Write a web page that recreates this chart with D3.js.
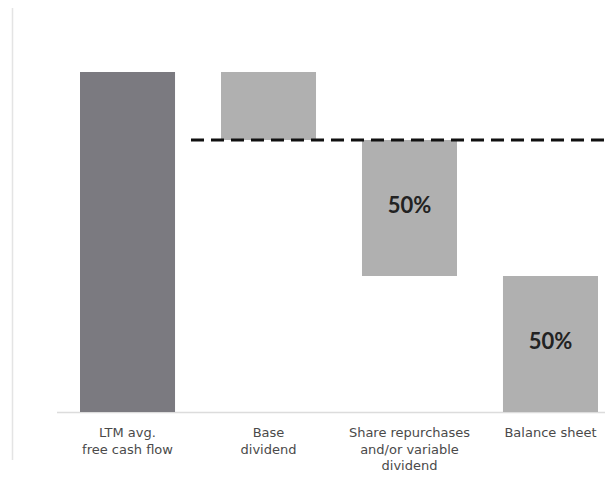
<!DOCTYPE html>
<html>
<head>
<meta charset="utf-8">
<script src="https://cdn.jsdelivr.net/npm/d3@7"></script>
<style>
  body { margin: 0; background: #fff; }
  svg { display: block; }
</style>
</head>
<body>
<div id="chart"></div>
<script>
// waterfall data
const categories = ["LTM avg.|free cash flow", "Base|dividend", "Share repurchases|and/or variable|dividend", "Balance sheet"];
const values = [100, -20, -40, -40];
const shareLabels = ["", "", "50%", "50%"];
const barColors = ["#7b7a80", "#b0b0b0", "#b0b0b0", "#b0b0b0"];

const width = 605, height = 477;

const svg = d3.select("#chart")
  .append("svg")
  .attr("width", width)
  .attr("height", height);

// build start/end for each step (first bar is the total, the rest step down)
let running = 0;
const bars = categories.map(function (c, i) {
  const start = running;
  const end = i === 0 ? values[i] : running + values[i];
  running = end;
  return { cat: c, lo: Math.min(start, end), hi: Math.max(start, end), label: shareLabels[i], color: barColors[i] };
});

const x = d3.scaleBand()
  .domain(categories)
  .range([80, 598])
  .paddingInner(0.326)
  .paddingOuter(0);

const y = d3.scaleLinear()
  .domain([0, 100])
  .range([412, 72]);

// left frame line
svg.append("line")
  .attr("x1", 12.5).attr("x2", 12.5)
  .attr("y1", 8).attr("y2", 460)
  .attr("stroke", "#e4e4e4").attr("stroke-width", 1.5);

// baseline
svg.append("line")
  .attr("x1", 57).attr("x2", width)
  .attr("y1", y(0) + 0.5).attr("y2", y(0) + 0.5)
  .attr("stroke", "#dcdcdc").attr("stroke-width", 1.5);

svg.selectAll("rect.bar")
  .data(bars)
  .enter()
  .append("rect")
  .attr("class", "bar")
  .attr("x", d => x(d.cat))
  .attr("width", x.bandwidth())
  .attr("y", d => y(d.hi))
  .attr("height", d => y(d.lo) - y(d.hi))
  .attr("fill", d => d.color);

// dashed line at level after base dividend
const level = values[0] + values[1];
svg.append("line")
  .attr("x1", x(categories[1]) - 30).attr("x2", width)
  .attr("y1", y(level)).attr("y2", y(level))
  .attr("stroke", "#111").attr("stroke-width", 3)
  .attr("stroke-dasharray", "13,7");

// percent labels inside bars
svg.selectAll("text.pct")
  .data(bars.filter(d => d.label))
  .enter()
  .append("text")
  .attr("class", "pct")
  .attr("x", d => x(d.cat) + x.bandwidth() / 2)
  .attr("y", d => (y(d.hi) + y(d.lo)) / 2 - 4)
  .attr("text-anchor", "middle")
  .attr("dominant-baseline", "central")
  .attr("font-family", "Lato, sans-serif")
  .attr("font-weight", "bold")
  .attr("font-size", 22)
  .attr("fill", "#222")
  .text(d => d.label);

// category labels
const lab = svg.selectAll("text.cat")
  .data(categories)
  .enter()
  .append("text")
  .attr("class", "cat")
  .attr("x", d => x(d) + x.bandwidth() / 2)
  .attr("y", 437)
  .attr("text-anchor", "middle")
  .attr("font-family", "DejaVu Sans, sans-serif")
  .attr("font-size", 13)
  .attr("fill", "#4a4a4a");

lab.selectAll("tspan")
  .data(d => d.split("|"))
  .enter()
  .append("tspan")
  .attr("x", function () { return d3.select(this.parentNode).attr("x"); })
  .attr("dy", (d, i) => i === 0 ? 0 : 16.5)
  .text(d => d);
</script>
</body>
</html>
